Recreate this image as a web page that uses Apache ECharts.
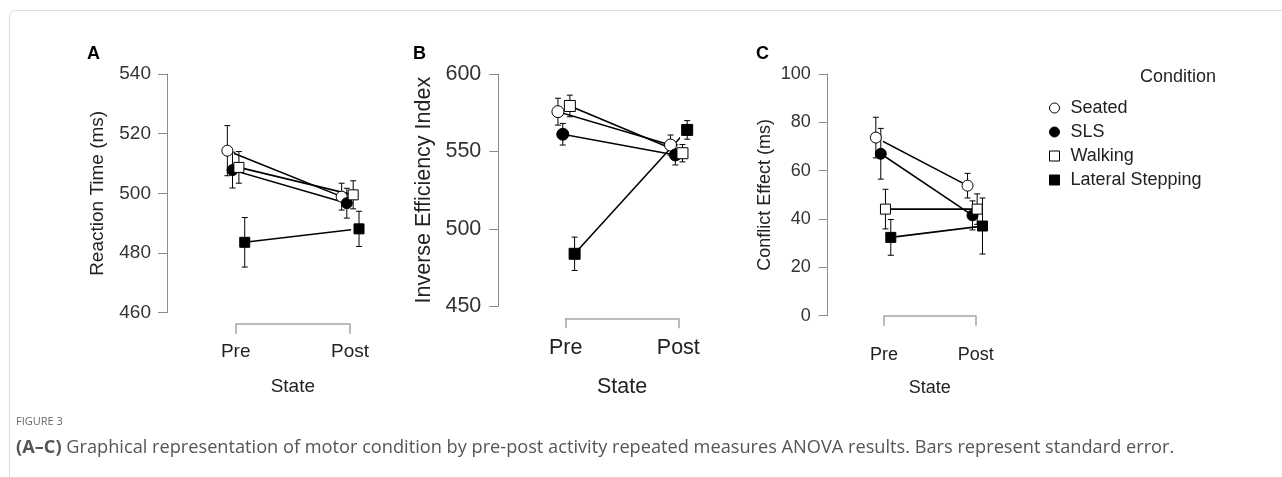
<!DOCTYPE html>
<html>
<head>
<meta charset="utf-8">
<script src="https://cdn.jsdelivr.net/npm/echarts@6/dist/echarts.min.js"></script>
<style>
  html, body { margin: 0; padding: 0; background: #fff; }
  #chart { width: 1282px; height: 477px; }
</style>
</head>
<body>
<div id="chart"></div>
<script>
// categories
const conditions = ['Seated', 'SLS', 'Walking', 'Lateral Stepping'];
const states = ['Pre', 'Post'];

// A: reaction time (ms), [pre, post] per condition
const rtMean = [[514.3, 498.9], [507.8, 496.7], [508.7, 499.5], [483.6, 488.1]];
const rtSE = [[8.4, 4.5], [6.0, 5.0], [5.3, 4.7], [8.3, 5.9]];

// B: inverse efficiency index
const ieMean = [[575.8, 554.2], [561.2, 547.8], [579.5, 548.9], [483.8, 564.0]];
const ieSE = [[8.7, 6.5], [7.0, 6.5], [7.0, 5.6], [10.8, 6.0]];

// C: conflict effect (ms)
const ceMean = [[73.7, 53.8], [67.0, 41.5], [44.1, 44.1], [32.4, 37.1]];
const ceSE = [[8.4, 5.1], [10.5, 6.0], [8.2, 6.3], [7.4, 11.6]];

// y axis ticks [min, max, step]
const rtTicks = [460, 540, 20];
const ieTicks = [450, 600, 50];
const ceTicks = [0, 100, 20];

const FONT = 'Liberation Sans, Arial, sans-serif';
const symbols = ['circle', 'circle', 'rect', 'rect'];
const fills = ['#fff', '#000', '#fff', '#000'];

const panels = [
    { letter: 'A', mean: rtMean, se: rtSE, ticks: rtTicks, yName: 'Reaction Time (ms)',
      grid: { left: 235.7, top: 74, width: 114.3, height: 238.7 },
      yOffset: 68.7, xOffset: 11.3, font: 19, yGap: 60, xGap: 53, yMargin: 16, xMargin: 18,
      dodge: [-0.073, -0.028, 0.028, 0.079], size: [11, 11, 10, 10], letterPos: [94, 55] },
    { letter: 'B', mean: ieMean, se: ieSE, ticks: ieTicks, yName: 'Inverse Efficiency Index',
      grid: { left: 565.7, top: 74.3, width: 112.6, height: 231.7 },
      yOffset: 67.4, xOffset: 12.3, font: 21.5, yGap: 63, xGap: 58, yMargin: 17, xMargin: 19,
      dodge: [-0.069, -0.026, 0.037, 0.079], size: [12, 12, 11, 11], letterPos: [420, 55] },
    { letter: 'C', mean: ceMean, se: ceSE, ticks: ceTicks, yName: 'Conflict Effect (ms)',
      grid: { left: 884, top: 74, width: 91.7, height: 241.7 },
      yOffset: 56.3, xOffset: 13.3, font: 18, yGap: 54, xGap: 50, yMargin: 17, xMargin: 17,
      dodge: [-0.089, -0.035, 0.016, 0.074], size: [11, 11, 10, 10], letterPos: [763, 55] }
];

function errorBarItem(params, api) {
    const x = api.value(0), y = api.value(1), e = api.value(2);
    const top = api.coord([x, y + e]);
    const bot = api.coord([x, y - e]);
    const style = { stroke: '#000', lineWidth: 1 };
    const cap = 3;
    return {
        type: 'group',
        children: [
            { type: 'line', shape: { x1: top[0], y1: top[1], x2: bot[0], y2: bot[1] }, style },
            { type: 'line', shape: { x1: top[0] - cap, y1: top[1], x2: top[0] + cap, y2: top[1] }, style },
            { type: 'line', shape: { x1: bot[0] - cap, y1: bot[1], x2: bot[0] + cap, y2: bot[1] }, style }
        ]
    };
}

const grids = [], xAxes = [], yAxes = [], series = [], graphics = [];

panels.forEach((p, k) => {
    grids.push(p.grid);
    xAxes.push({
        gridIndex: k, type: 'value', min: 1, max: 2, interval: 1, offset: p.xOffset,
        axisLine: { lineStyle: { color: '#a6a6a6', width: 1.5 } },
        axisTick: { length: 10, lineStyle: { color: '#a6a6a6', width: 1.5 } },
        axisLabel: { formatter: v => states[Math.round(v) - 1], fontFamily: FONT, fontSize: p.font, color: '#222', margin: p.xMargin },
        splitLine: { show: false },
        name: 'State', nameLocation: 'middle', nameGap: p.xGap,
        nameTextStyle: { fontFamily: FONT, fontSize: p.font, color: '#222' }
    });
    yAxes.push({
        gridIndex: k, type: 'value', min: p.ticks[0], max: p.ticks[1], interval: p.ticks[2], offset: p.yOffset,
        axisLine: { show: true, lineStyle: { color: '#8c8c8c', width: 1 } },
        axisTick: { show: true, length: 9, lineStyle: { color: '#8c8c8c', width: 1 } },
        axisLabel: { fontFamily: FONT, fontSize: p.font, color: '#333', margin: p.yMargin },
        splitLine: { show: false },
        name: p.yName, nameLocation: 'middle', nameGap: p.yGap,
        nameTextStyle: { fontFamily: FONT, fontSize: p.font, color: '#222' }
    });

    conditions.forEach((c, i) => {
        const pts = states.map((s, j) => [j + 1 + p.dodge[i], p.mean[i][j]]);
        series.push({
            type: 'custom', xAxisIndex: k, yAxisIndex: k, renderItem: errorBarItem, clip: false, z: 1,
            encode: { x: 0, y: 1 },
            data: states.map((s, j) => [j + 1 + p.dodge[i], p.mean[i][j], p.se[i][j]]),
            silent: true
        });
        series.push({
            type: 'line', xAxisIndex: k, yAxisIndex: k, clip: false, z: 2, symbol: 'none',
            lineStyle: { color: '#000', width: 1.6 }, data: pts, silent: true
        });
        series.push({
            name: c, type: 'scatter', xAxisIndex: k, yAxisIndex: k, clip: false, z: 3,
            symbol: symbols[i], symbolSize: p.size[i],
            itemStyle: { color: fills[i], borderColor: '#000', borderWidth: 1, opacity: 1 },
            data: pts
        });
    });

    graphics.push({
        type: 'text', left: p.letterPos[0] - 7, top: p.letterPos[1] - 10,
        style: { text: p.letter, fontFamily: FONT, fontSize: 18, fontWeight: 'bold', fill: '#000' }
    });
});

graphics.push({
    type: 'text', left: 1140, top: 68,
    style: { text: 'Condition', fontFamily: FONT, fontSize: 18, fill: '#222' }
});
graphics.push({
    type: 'text', left: 16, top: 416,
    style: { text: 'FIGURE 3', fontFamily: 'Open Sans, sans-serif', fontSize: 11, fill: '#666' }
});
graphics.push({
    type: 'text', left: 16, top: 439,
    style: {
        text: '{b|(A–C)} Graphical representation of motor condition by pre-post activity repeated measures ANOVA results. Bars represent standard error.',
        fontFamily: 'Open Sans, sans-serif', fontSize: 18.2, fill: '#555',
        rich: { b: { fontFamily: 'Open Sans, sans-serif', fontSize: 18.2, fontWeight: 'bold', fill: '#555' } }
    }
});
graphics.push({
    type: 'rect', left: 7, top: 8, silent: true,
    shape: { width: 1300, height: 500, r: 6 },
    style: { fill: 'none', stroke: '#dcdcdc', lineWidth: 1 }
});

const chart = echarts.init(document.getElementById('chart'));
chart.setOption({
    animation: false,
    grid: grids,
    xAxis: xAxes,
    yAxis: yAxes,
    legend: {
        orient: 'vertical', left: 1044, top: 94, itemWidth: 10, itemHeight: 10, itemGap: 6,
        selectedMode: false,
        textStyle: { fontFamily: FONT, fontSize: 18, color: '#222', lineHeight: 18, padding: [0, 0, 0, 6] },
        data: conditions.map((c, i) => ({
            name: c, icon: symbols[i],
            itemStyle: { color: fills[i], borderColor: '#000', borderWidth: 1 }
        }))
    },
    graphic: graphics,
    series: series
});
</script>
</body>
</html>
